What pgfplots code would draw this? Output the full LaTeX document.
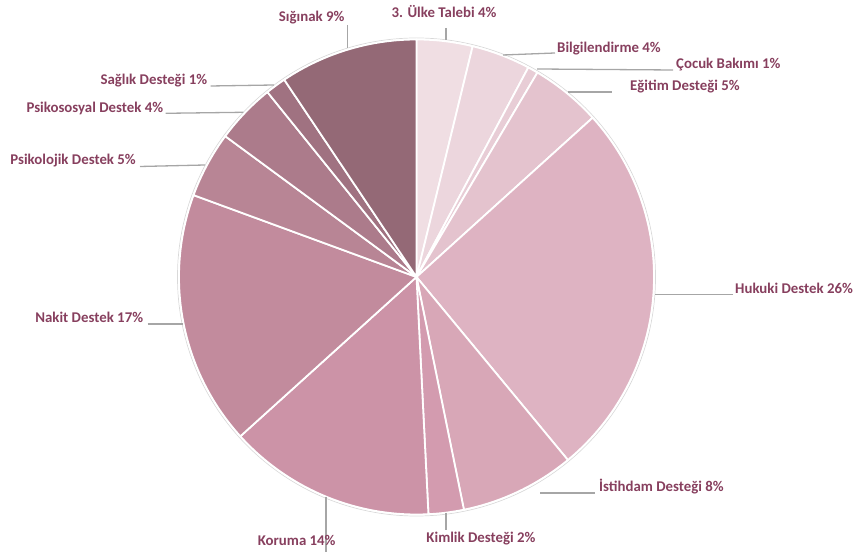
\documentclass[border=0pt]{standalone}
\usepackage{fontspec}
\setmainfont{Carlito}
\usepackage{pgfplots}
\usepackage{pgfplotstable}
\pgfplotsset{compat=1.18}

\definecolor{s1}{HTML}{F0DEE3}
\definecolor{s2}{HTML}{ECD6DD}
\definecolor{s3}{HTML}{E8CDD6}
\definecolor{s4}{HTML}{E4C3CE}
\definecolor{s5}{HTML}{DEB3C2}
\definecolor{s6}{HTML}{D8A7B7}
\definecolor{s7}{HTML}{D39BAF}
\definecolor{s8}{HTML}{CC93A7}
\definecolor{s9}{HTML}{C28B9D}
\definecolor{s10}{HTML}{B88595}
\definecolor{s11}{HTML}{AC7B8B}
\definecolor{s12}{HTML}{A07281}
\definecolor{s13}{HTML}{946976}
\definecolor{lbl}{HTML}{873F5E}
\definecolor{ldr}{HTML}{A6A6A6}

\pgfplotstableread[col sep=comma]{
category,value,colour
Ülke Talebi,3.8,s1
Bilgilendirme,4.0,s2
Çocuk Bakımı,0.7,s3
Eğitim Desteği,4.8,s4
Hukuki Destek,25.7,s5
İstihdam Desteği,7.8,s6
Kimlik Desteği,2.4,s7
Koruma,14.1,s8
Nakit Destek,17.3,s9
Psikolojik Destek,4.5,s10
Psikososyal Destek,4.1,s11
Sağlık Desteği,1.4,s12
Sığınak,9.4,s13
}\piedata

\def\cx{416.5}
\def\cy{277}
\def\R{237.5}
\newcommand\lblfont{\fontsize{14.9}{17}\selectfont\bfseries}

\begin{document}
\begin{tikzpicture}
\begin{axis}[x=1bp,y=1bp,xmin=0,xmax=857,ymin=0,ymax=554,hide axis,clip=false]
\path (axis cs:0,0) rectangle (axis cs:857,554);
\draw[gray!30, line width=0.7bp] (axis cs:\cx,\cy) circle[radius=239bp];
\pgfplotstablegetrowsof{\piedata}
\pgfmathtruncatemacro\N{\pgfplotsretval-1}
\gdef\cum{0}
\foreach \i in {0,...,\N}{
  \pgfplotstablegetelem{\i}{value}\of\piedata \let\v\pgfplotsretval
  \pgfplotstablegetelem{\i}{colour}\of\piedata \let\c\pgfplotsretval
  \pgfmathsetmacro\sa{90-3.6*\cum}
  \pgfmathsetmacro\ea{90-3.6*(\cum+\v)}
  \edef\temp{\noexpand\fill[fill=\c,draw=white,line width=1.8bp,line join=round] (axis cs:\cx,\cy) -- ++(\sa:\R bp) arc[start angle=\sa,end angle=\ea,radius=\R bp] -- cycle;}
  \temp
  \pgfmathsetmacro\newcum{\cum+\v}
  \global\let\cum\newcum
}
% leader lines
\begin{scope}[ldr, line width=1.3bp]
\draw (axis cs:446,526) -- (axis cs:446,514);
\draw (axis cs:503,499) -- (axis cs:555,501);
\draw (axis cs:537,485) -- (axis cs:673,484);
\draw (axis cs:568,462) -- (axis cs:612,462);
\draw (axis cs:655,259.7) -- (axis cs:733,259.7);
\draw (axis cs:540,61) -- (axis cs:595,61);
\draw (axis cs:446,41) -- (axis cs:446,24);
\draw (axis cs:326,57) -- (axis cs:326,2);
\draw (axis cs:147.7,230) -- (axis cs:183,230);
\draw (axis cs:140,387.5) -- (axis cs:205,389);
\draw (axis cs:165.7,440.7) -- (axis cs:243.3,441.7);
\draw (axis cs:210.7,468) -- (axis cs:274,469);
\draw (axis cs:347.7,529) -- (axis cs:347.7,506);
\end{scope}
% labels
\begin{scope}[every node/.style={text=lbl, font=\lblfont, inner sep=0pt}]
\node[anchor=mid] at (axis cs:444,539) {3. Ülke Talebi 4\%};
\node[anchor=mid west] at (axis cs:557,504) {Bilgilendirme 4\%};
\node[anchor=mid west] at (axis cs:676,488) {Çocuk Bakımı 1\%};
\node[anchor=mid west] at (axis cs:630,465.5) {Eğitim Desteği 5\%};
\node[anchor=mid west] at (axis cs:735,263.3) {Hukuki Destek 26\%};
\node[anchor=mid west] at (axis cs:599,65) {İstihdam Desteği 8\%};
\node[anchor=mid] at (axis cs:481,14) {Kimlik Desteği 2\%};
\node[anchor=mid] at (axis cs:296.7,11) {Koruma 14\%};
\node[anchor=mid east] at (axis cs:143.3,234) {Nakit Destek 17\%};
\node[anchor=mid east] at (axis cs:136,392) {Psikolojik Destek 5\%};
\node[anchor=mid east] at (axis cs:163.3,443.5) {Psikososyal Destek 4\%};
\node[anchor=mid east] at (axis cs:207.3,471.5) {Sağlık Desteği 1\%};
\node[anchor=mid] at (axis cs:311.7,535) {Sığınak 9\%};
\end{scope}
\end{axis}
\end{tikzpicture}
\end{document}
